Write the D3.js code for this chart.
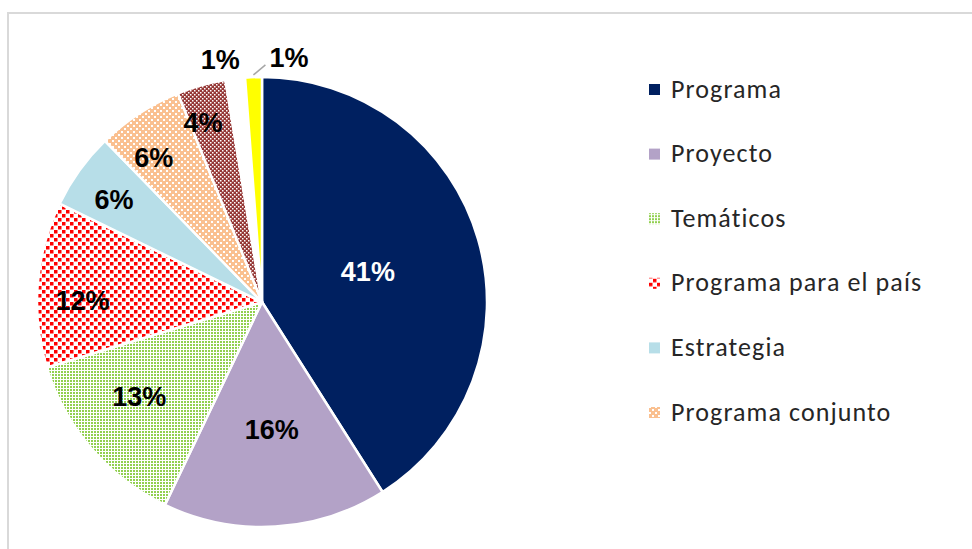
<!DOCTYPE html>
<html>
<head>
<meta charset="utf-8">
<script src="https://cdn.jsdelivr.net/npm/d3@7"></script>
<style>
  body { margin: 0; background: #fff; }
  .label { font-family: "Liberation Sans", Arial, sans-serif; font-weight: bold; font-size: 27px; }
  .legend text { font-family: Carlito, Calibri, Lato, sans-serif; font-size: 26px; letter-spacing: 1.1px; fill: #262626; }
</style>
</head>
<body>
<script>
(function(){

  //chart data
  var categories = ["Programa", "Proyecto", "Temáticos", "Programa para el país", "Estrategia", "Programa conjunto", "Otro A", "Otro B", "Otro C"];
  var shares = [41.0, 16.1, 13.2, 11.9, 5.5, 6.2, 3.5, 1.4, 1.2]; //percent of total
  var legendItems = categories.slice(0, 6); //legend only shows the first six

  //fill for each slice (solid colour or pattern id)
  var fills = ["#002060", "#B3A2C7", "url(#pat-green)", "url(#pat-red)", "#B7DEE8", "url(#pat-orange)", "url(#pat-brown)", "#FFFFFF", "#FFFF00"];
  var labelColors = ["#fff", "#000", "#000", "#000", "#000", "#000", "#000", "#000", "#000"];
  var labelRadius = [0.49, 0.57, 0.69, 0.8, 0.8, 0.8, 0.84, 1.11, 1.11]; //fraction of pie radius
  var labelNudge = [[0, 0], [2, -1], [-5, -7], [0, 12], [-2, 3], [-10, 6], [-8, 2], [-12, 5], [0, 0]]; //best-fit tweaks

  var width = 972,
      height = 549;

  var svg = d3.select("body")
    .append("svg")
    .attr("width", width)
    .attr("height", height);

  makePatterns(svg);

  //chart frame (only top and left edges are in view)
  svg.append("path")
    .attr("d", "M8,549V13H972")
    .attr("fill", "none")
    .attr("stroke", "#D9D9D9")
    .attr("stroke-width", 2);

  var cx = 262, cy = 302, radius = 225;

  var pie = d3.pie()
    .sort(null)
    .value(function(d){ return d; });

  var arc = d3.arc()
    .innerRadius(0)
    .outerRadius(radius);

  var arcs = pie(shares);

  var g = svg.append("g")
    .attr("transform", "translate(" + cx + "," + cy + ")");

  g.selectAll(".slice")
    .data(arcs)
    .enter()
    .append("path")
    .attr("class", "slice")
    .attr("d", arc)
    .attr("fill", function(d, i){ return fills[i]; })
    .attr("stroke", "#fff")
    .attr("stroke-width", 2.5)
    .attr("stroke-linejoin", "round");

  //percentage labels
  g.selectAll(".label")
    .data(arcs)
    .enter()
    .append("text")
    .attr("class", "label")
    .attr("text-anchor", function(d, i){ return i == arcs.length - 1 ? "start" : "middle"; })
    .attr("dy", "0.36em")
    .attr("fill", function(d, i){ return labelColors[i]; })
    .attr("transform", function(d, i){
      var p = labelPoint(d, labelRadius[i]);
      if (i == arcs.length - 1){ //last label sits right of a leader line
        var o = labelPoint(d, 1.01);
        p = [o[0] + 16, o[1] - 18];
      }
      return "translate(" + (p[0] + labelNudge[i][0]) + "," + (p[1] + labelNudge[i][1]) + ")";
    })
    .text(function(d){ return Math.round(d.value) + "%"; });

  //leader line for the last slice
  var last = arcs[arcs.length - 1];
  var a0 = labelPoint(last, 1.01);
  g.append("line")
    .attr("x1", a0[0])
    .attr("y1", a0[1])
    .attr("x2", a0[0] + 12)
    .attr("y2", a0[1] - 10)
    .attr("stroke", "#A6A6A6")
    .attr("stroke-width", 1.5);

  //legend
  var legendY = d3.scalePoint()
    .domain(legendItems)
    .range([89, 412]);

  var legend = svg.append("g")
    .attr("class", "legend")
    .selectAll("g")
    .data(legendItems)
    .enter()
    .append("g")
    .attr("transform", function(d){ return "translate(649," + legendY(d) + ")"; });

  legend.append("rect")
    .attr("x", 0)
    .attr("y", -5)
    .attr("width", 11)
    .attr("height", 11)
    .attr("fill", function(d, i){ return fills[i]; });

  legend.append("text")
    .attr("x", 22)
    .attr("dy", "0.33em")
    .text(function(d){ return d; });

  //point on the mid-angle of a slice at a fraction of the radius
  function labelPoint(d, frac){
    var a = (d.startAngle + d.endAngle) / 2;
    var r = radius * frac;
    return [Math.sin(a) * r, -Math.cos(a) * r];
  };

  //fill patterns used by some slices
  function makePatterns(svg){
    var defs = svg.append("defs");

    var green = defs.append("pattern")
      .attr("id", "pat-green")
      .attr("patternUnits", "userSpaceOnUse")
      .attr("width", 3)
      .attr("height", 3);
    green.append("rect").attr("width", 3).attr("height", 3).attr("fill", "#fff");
    green.append("rect").attr("width", 2).attr("height", 2).attr("fill", "#92D050");

    var red = defs.append("pattern")
      .attr("id", "pat-red")
      .attr("patternUnits", "userSpaceOnUse")
      .attr("width", 8)
      .attr("height", 8);
    red.append("rect").attr("width", 8).attr("height", 8).attr("fill", "#fff");
    red.append("rect").attr("width", 3.5).attr("height", 3.5).attr("fill", "#FF0000");
    red.append("rect").attr("x", 4).attr("y", 4).attr("width", 3.5).attr("height", 3.5).attr("fill", "#FF0000");

    var orange = defs.append("pattern")
      .attr("id", "pat-orange")
      .attr("patternUnits", "userSpaceOnUse")
      .attr("width", 6)
      .attr("height", 6);
    orange.append("rect").attr("width", 6).attr("height", 6).attr("fill", "#FAC090");
    orange.append("rect").attr("width", 2).attr("height", 2).attr("fill", "#fff");
    orange.append("rect").attr("x", 3).attr("y", 3).attr("width", 2).attr("height", 2).attr("fill", "#fff");

    var brown = defs.append("pattern")
      .attr("id", "pat-brown")
      .attr("patternUnits", "userSpaceOnUse")
      .attr("width", 4)
      .attr("height", 4);
    brown.append("rect").attr("width", 4).attr("height", 4).attr("fill", "#953735");
    brown.append("rect").attr("width", 1.5).attr("height", 1.5).attr("fill", "#fff");
    brown.append("rect").attr("x", 2).attr("y", 2).attr("width", 1.5).attr("height", 1.5).attr("fill", "#fff");
  };
})();
</script>
</body>
</html>
